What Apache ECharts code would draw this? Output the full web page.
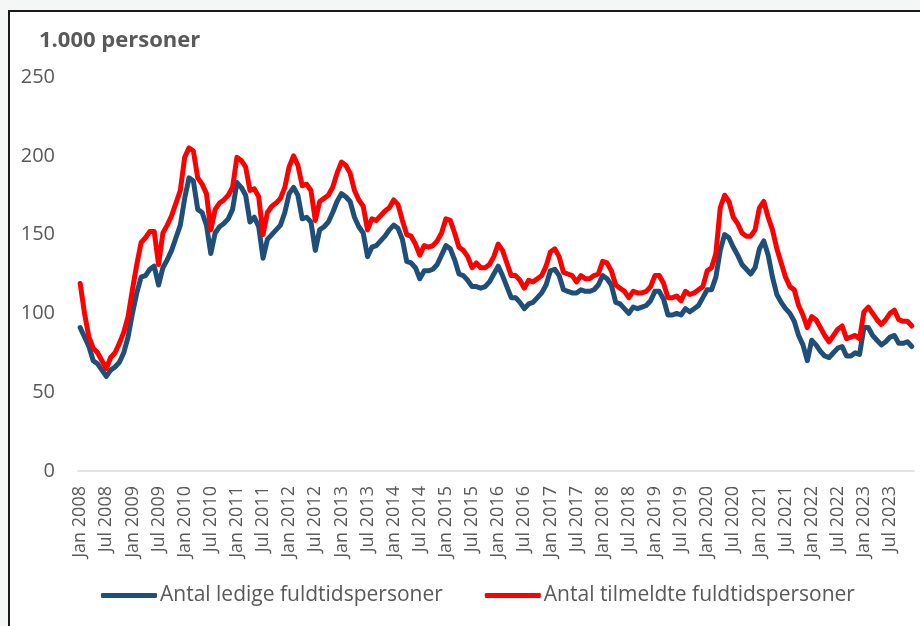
<!DOCTYPE html>
<html>
<head>
<meta charset="utf-8">
<script src="https://cdn.jsdelivr.net/npm/echarts@6/dist/echarts.min.js"></script>
<style>
html,body{margin:0;padding:0;background:#f5f6f6;}
#chart{width:920px;height:626px;}
</style>
</head>
<body>
<div id="chart"></div>
<script>
var monthNames = ['Jan','Feb','Mar','Apr','Maj','Jun','Jul','Aug','Sep','Okt','Nov','Dec'];
var firstYear = 2008;
var lastYear = 2023;
var yTicks = [0, 50, 100, 150, 200, 250];

var ledige = [
  91,85,79,70,68,64,60,64,66,69,75,85,
  100,113,123,124,128,130,118,129,134,140,148,156,
  173,186,184,166,164,156,138,151,155,157,160,166,
  183,180,175,158,161,155,135,147,150,153,156,164,
  176,180,175,160,161,158,140,153,155,158,164,171,
  176,174,171,161,155,151,136,142,143,146,149,153,
  156,154,147,133,132,129,122,127,127,128,131,137,
  143,141,134,125,124,121,117,117,116,117,120,125,
  130,124,117,110,110,107,103,106,107,110,113,118,
  127,128,124,115,114,113,113,115,114,114,115,118,
  124,122,118,107,106,103,100,104,103,104,105,108,
  114,114,109,99,99,100,99,103,101,103,105,110,
  115,115,123,140,150,148,142,137,131,128,125,129,
  141,146,137,123,112,107,103,100,95,86,80,70,
  83,80,76,73,72,75,78,79,73,73,75,74,
  91,91,86,83,80,82,85,86,81,81,82,79
];
var tilmeldte = [
  119,100,85,78,75,70,65,72,75,81,88,98,
  115,131,145,148,152,152,131,151,156,162,170,178,
  199,205,203,186,182,176,153,166,170,172,175,180,
  199,197,193,178,179,174,150,164,168,170,173,180,
  193,200,194,181,182,178,159,171,173,175,180,189,
  196,194,189,178,172,168,153,160,159,162,165,167,
  172,169,159,150,149,144,137,143,142,143,146,151,
  160,159,151,142,140,136,129,132,129,129,131,136,
  144,140,132,124,124,121,116,121,120,122,124,130,
  139,141,136,126,125,124,120,124,122,122,124,125,
  133,132,127,118,116,114,110,114,113,113,114,117,
  124,124,119,110,110,111,108,114,112,113,115,117,
  127,129,138,167,175,171,161,157,151,149,149,153,
  167,171,161,153,141,132,123,117,115,105,99,91,
  98,96,91,86,82,86,90,92,84,85,86,84,
  101,104,100,96,93,96,100,102,96,95,95,92
];

var categories = [];
for (var y = firstYear; y <= lastYear; y++) {
  for (var m = 0; m < 12; m++) categories.push(monthNames[m] + ' ' + y);
}

var chart = echarts.init(document.getElementById('chart'));
var textColor = '#595959';
var fontFam = '"Open Sans", "Liberation Sans", sans-serif';

chart.setOption({
  backgroundColor: '#f5f6f6',
  animation: false,
  graphic: [{
    type: 'rect',
    z: -10,
    shape: { x: 9, y: 11, width: 940, height: 700 },
    style: { fill: '#ffffff', stroke: '#1a1a1a', lineWidth: 2 }
  }],
  title: {
    text: '1.000 personer',
    left: 34,
    top: 25,
    textStyle: { fontFamily: fontFam, fontSize: 22, fontWeight: 'bold', color: textColor }
  },
  legend: {
    data: ['Antal ledige fuldtidspersoner', 'Antal tilmeldte fuldtidspersoner'],
    left: 96,
    top: 580,
    icon: 'roundRect',
    itemWidth: 56,
    itemHeight: 5,
    itemGap: 42,
    textStyle: { fontFamily: fontFam, fontSize: 21, color: textColor, padding: [0, 0, 0, -2] }
  },
  grid: { left: 78, right: 6, top: 77, bottom: 155, containLabel: false },
  xAxis: {
    type: 'category',
    data: categories,
    boundaryGap: true,
    axisLine: { show: true, lineStyle: { color: '#d9d9d9', width: 1.5 } },
    axisTick: { show: false },
    axisLabel: {
      interval: 5,
      rotate: 90,
      margin: 15,
      fontFamily: fontFam,
      fontSize: 18,
      color: textColor
    },
    splitLine: { show: false }
  },
  yAxis: {
    type: 'value',
    min: yTicks[0],
    max: yTicks[yTicks.length - 1],
    interval: 50,
    axisLine: { show: false },
    axisTick: { show: false },
    splitLine: { show: false },
    axisLabel: { margin: 23, fontFamily: fontFam, fontSize: 20, color: textColor }
  },
  series: [{
    name: 'Antal ledige fuldtidspersoner',
    type: 'line',
    data: ledige,
    showSymbol: false,
    symbol: 'none',
    color: '#1f4e79',
    lineStyle: { color: '#1f4e79', width: 5, join: 'round', cap: 'round' }
  }, {
    name: 'Antal tilmeldte fuldtidspersoner',
    type: 'line',
    data: tilmeldte,
    showSymbol: false,
    symbol: 'none',
    color: '#ff0000',
    lineStyle: { color: '#ff0000', width: 5, join: 'round', cap: 'round' }
  }]
});
</script>
</body>
</html>
